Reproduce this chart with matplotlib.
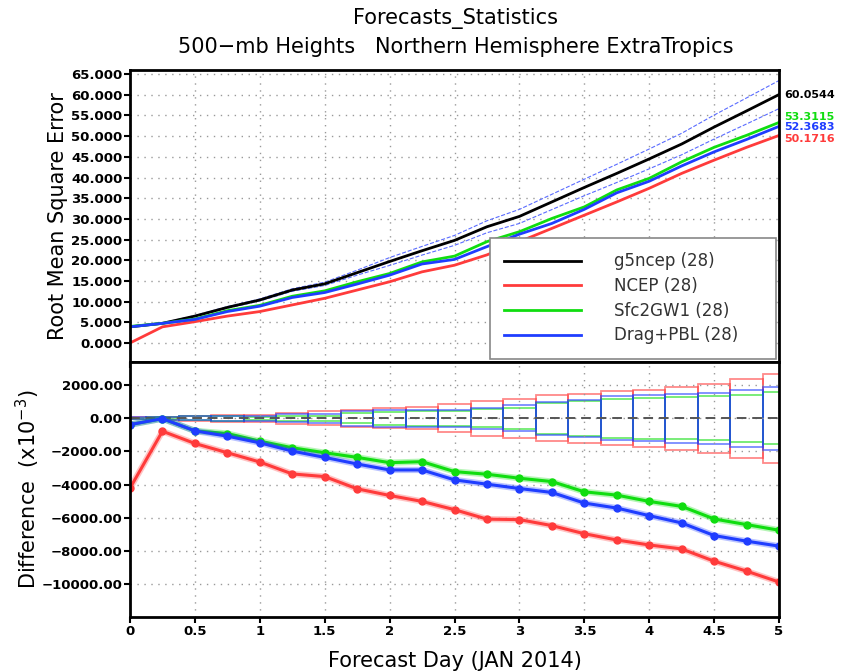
import numpy as np
import matplotlib
matplotlib.use('Agg')
import matplotlib.pyplot as plt
from matplotlib.ticker import FuncFormatter

# forecast days
days = [0, 0.25, 0.5, 0.75, 1.0, 1.25, 1.5, 1.75, 2.0, 2.25, 2.5,
        2.75, 3.0, 3.25, 3.5, 3.75, 4.0, 4.25, 4.5, 4.75, 5.0]

# RMSE (top panel)
rmse_g5ncep = [3.9, 4.75, 6.5, 8.6, 10.4, 12.8, 14.3, 17.0, 19.7, 22.3, 24.8,
               28.1, 30.6, 34.1, 37.6, 41.0, 44.5, 48.1, 52.2, 56.1, 60.0544]
rmse_ncep = [0.0, 3.9, 5.15, 6.5, 7.6, 9.2, 10.8, 12.8, 14.8, 17.2, 18.8,
             21.3, 24.5, 27.7, 30.9, 34.1, 37.4, 41.0, 44.2, 47.3, 50.1716]
rmse_sfc2gw1 = [4.0, 4.75, 5.8, 7.8, 9.1, 11.3, 12.6, 14.8, 16.8, 19.6, 21.0,
                24.5, 26.9, 30.1, 32.9, 37.0, 39.8, 43.8, 47.3, 50.2, 53.3115]
rmse_dragpbl = [3.9, 4.75, 5.7, 7.6, 8.9, 11.0, 12.2, 14.25, 16.4, 19.1, 20.2,
                23.3, 26.3, 28.9, 32.3, 36.3, 39.1, 42.8, 46.2, 49.2, 52.3683]
# half width of the dashed band around g5ncep
band_half = [0.1, 0.1, 0.15, 0.2, 0.25, 0.3, 0.4, 0.6, 0.95, 1.05, 1.2,
             1.45, 1.7, 1.85, 2.0, 2.2, 2.4, 2.6, 2.9, 3.15, 3.4]

# differences x1e-3 (bottom panel)
diff_ncep = [-4220, -780, -1520, -2080, -2640, -3360, -3520, -4260, -4660, -5020, -5520,
             -6090, -6120, -6480, -6970, -7350, -7650, -7890, -8630, -9230, -9890]
diff_sfc2gw1 = [-380, -20, -760, -920, -1380, -1780, -2080, -2360, -2680, -2620, -3220,
                -3380, -3620, -3820, -4440, -4640, -5020, -5320, -6080, -6420, -6760]
diff_dragpbl = [-380, -20, -760, -1080, -1480, -1980, -2360, -2760, -3120, -3120, -3720,
                -3980, -4240, -4480, -5120, -5420, -5880, -6320, -7080, -7420, -7720]
# significance box half heights
sig_ncep = [60, 100, 150, 200, 220, 340, 420, 500, 600, 660, 840,
            1040, 1180, 1380, 1480, 1620, 1720, 1920, 2080, 2380, 2680]
sig_sfc2gw1 = [40, 70, 110, 140, 100, 140, 160, 300, 400, 440, 440,
               540, 640, 940, 1040, 1180, 1240, 1280, 1320, 1420, 1580]
sig_dragpbl = [50, 90, 130, 150, 160, 240, 260, 440, 500, 500, 530,
               620, 780, 980, 1120, 1320, 1380, 1480, 1540, 1720, 1900]

labels = ['g5ncep (28)', 'NCEP (28)', 'Sfc2GW1 (28)', 'Drag+PBL (28)']
c_black, c_red, c_green, c_blue = 'black', '#ff3b3b', '#10dd10', '#1f3dff'

d = np.array(days)
fig = plt.figure(figsize=(8.42, 6.71), dpi=100)
ax1 = fig.add_axes([0.1544, 0.4605, 0.7708, 0.4352])
ax2 = fig.add_axes([0.1544, 0.0805, 0.7708, 0.3800])

grid_kw = dict(color='#999999', linestyle=(0, (1, 4)), linewidth=1.0)

# ---- top panel ----
g5 = np.array(rmse_g5ncep)
bh = np.array(band_half)
ax1.plot(d, g5 + bh, color='#5a6cff', lw=0.8, ls='--')
ax1.plot(d, g5 - bh, color='#5a6cff', lw=0.8, ls='--')
ax1.plot(d, rmse_g5ncep, color=c_black, lw=2, label=labels[0])
ax1.plot(d, rmse_ncep, color=c_red, lw=2, label=labels[1])
ax1.plot(d, rmse_sfc2gw1, color=c_green, lw=2, label=labels[2])
ax1.plot(d, rmse_dragpbl, color=c_blue, lw=2, label=labels[3])
ax1.set_xlim(0, 5)
ax1.set_ylim(-4.6, 66)
ax1.set_yticks(np.arange(0, 66, 5))
ax1.set_xticks(np.arange(0, 5.01, 0.5))
ax1.tick_params(axis='x', length=0, labelbottom=False)
ax1.yaxis.set_major_formatter(FuncFormatter(lambda v, p: '%.3f' % v))
ax1.grid(True, **grid_kw)
ax1.set_ylabel('Root Mean Square Error', fontsize=15)
ax1.yaxis.set_label_coords(-0.0955, 0.5)

leg = ax1.legend(loc='lower left', bbox_to_anchor=(0.555, 0.012, 0.44, 0.395),
                 mode='expand', fontsize=12, handlelength=4.6, handletextpad=2.0,
                 labelspacing=0.4, borderpad=0.85, fancybox=False, framealpha=1,
                 borderaxespad=0)
leg.get_frame().set_edgecolor('#888888')
leg.get_frame().set_linewidth(1.2)
for t in leg.get_texts():
    t.set_color('#333333')

# final value labels at the right
finals = [(rmse_g5ncep[-1], c_black, 0.0), (rmse_sfc2gw1[-1], c_green, 1.4),
          (rmse_dragpbl[-1], c_blue, -0.1), (rmse_ncep[-1], c_red, -0.9)]
for val, col, off in finals:
    ax1.text(5.04, val + off, '%.4f' % val, color=col, fontsize=8,
             fontweight='bold', va='center', ha='left', clip_on=False)

# ---- bottom panel ----
step = 0.25
for sig, col in [(sig_ncep, c_red), (sig_sfc2gw1, c_green), (sig_dragpbl, c_blue)]:
    for x, h in zip(days, sig):
        ax2.add_patch(plt.Rectangle((x - step / 2, -h), step, 2 * h, fill=False,
                                    edgecolor=col, lw=1.3, alpha=0.6))
ax2.axhline(0, color='#555555', lw=1.4, ls=(0, (5, 3)))
for vals, col in [(diff_ncep, c_red), (diff_sfc2gw1, c_green), (diff_dragpbl, c_blue)]:
    ax2.plot(d, vals, color=col, lw=4.5, alpha=0.3)
    ax2.plot(d, vals, color=col, lw=2.2, marker='o', markersize=5)
ax2.set_xlim(0, 5)
ax2.set_ylim(-12000, 3400)
ax2.set_yticks(np.arange(-10000, 2001, 2000))
ax2.set_xticks(np.arange(0, 5.01, 0.5))
ax2.xaxis.set_major_formatter(FuncFormatter(lambda v, p: '%g' % v))
ax2.yaxis.set_major_formatter(FuncFormatter(lambda v, p: ('%.2f' % v).replace('-', '\u2212')))
ax2.grid(True, **grid_kw)
ax2.set_ylabel('Difference  (x10$^{-3}$)', fontsize=15)
ax2.yaxis.set_label_coords(-0.1356, 0.5)
ax2.set_xlabel('Forecast Day (JAN 2014)', fontsize=15)
ax2.xaxis.set_label_coords(0.5, -0.135)

for ax in (ax1, ax2):
    for s in ax.spines.values():
        s.set_linewidth(2)
    ax.tick_params(width=1.5, length=4, labelsize=9.5, pad=1.5)
    for lab in ax.get_yticklabels() + ax.get_xticklabels():
        lab.set_fontweight('bold')

fig.text(0.541, 0.973, 'Forecasts_Statistics', ha='center', va='center', fontsize=15)
fig.text(0.541, 0.930, '500\u2212mb Heights   Northern Hemisphere ExtraTropics',
         ha='center', va='center', fontsize=15)

fig.savefig('out.png', dpi=100)
